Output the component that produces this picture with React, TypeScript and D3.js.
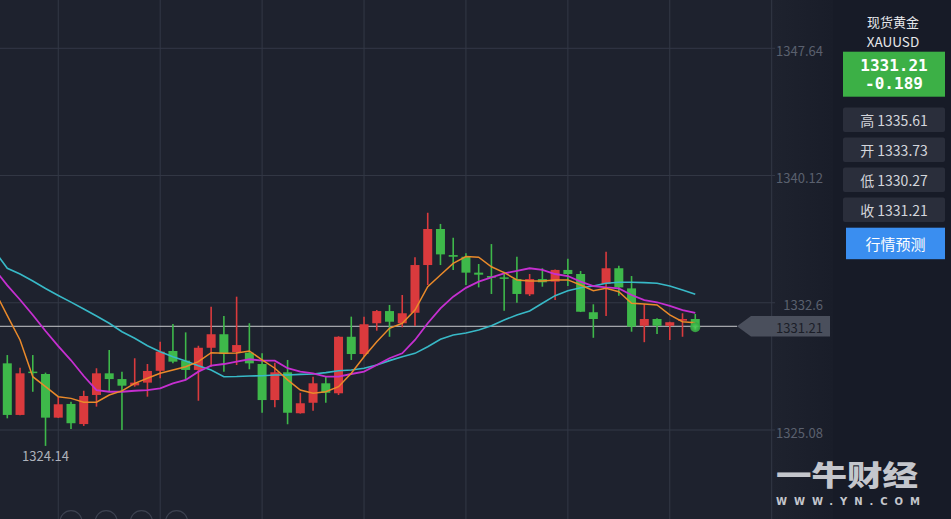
import React from 'react';
import * as d3 from 'd3';

const W = 951;
const H = 519;

// Candles (left to right)
const OPEN = [1329.02, 1325.97, 1328.53, 1328.39, 1325.81, 1326.62, 1325.43, 1327.15, 1328.43, 1328.09, 1327.72, 1327.88, 1328.58, 1329.75, 1329.18, 1328.63, 1329.94, 1330.74, 1329.69, 1329.65, 1328.98, 1326.85, 1328.49, 1326.07, 1326.69, 1327.84, 1327.25, 1330.59, 1329.57, 1331.39, 1332.11, 1331.39, 1332.01, 1334.83, 1336.96, 1335.42, 1335.32, 1334.38, 1334.18, 1334.10, 1334.00, 1333.10, 1334.00, 1333.85, 1334.54, 1334.30, 1332.04, 1333.71, 1334.64, 1333.45, 1331.24, 1331.64, 1331.24, 1331.54, 1331.64];
const CLOSE = [1325.97, 1328.43, 1328.45, 1325.81, 1326.60, 1325.48, 1327.09, 1328.43, 1328.09, 1327.70, 1327.88, 1328.57, 1329.71, 1329.12, 1328.63, 1329.94, 1330.74, 1329.57, 1330.10, 1329.02, 1326.85, 1328.49, 1326.10, 1326.66, 1327.84, 1327.28, 1330.59, 1329.57, 1331.33, 1332.11, 1331.48, 1331.98, 1334.83, 1336.96, 1335.46, 1335.32, 1334.38, 1334.26, 1334.08, 1334.02, 1333.12, 1334.00, 1333.81, 1334.54, 1334.30, 1332.07, 1331.64, 1334.64, 1333.51, 1331.19, 1331.64, 1331.24, 1331.45, 1331.64, 1331.21];
const HIGH = [1329.51, 1328.76, 1329.51, 1328.47, 1327.05, 1326.75, 1327.40, 1328.73, 1329.81, 1328.53, 1329.32, 1328.98, 1330.30, 1331.35, 1330.85, 1330.06, 1332.37, 1331.82, 1332.96, 1331.39, 1329.61, 1329.06, 1329.22, 1327.28, 1328.23, 1328.23, 1330.62, 1331.78, 1331.78, 1332.17, 1332.47, 1333.06, 1335.29, 1337.92, 1337.26, 1336.45, 1335.52, 1334.89, 1336.07, 1334.44, 1335.32, 1334.30, 1334.64, 1334.56, 1335.20, 1334.48, 1332.51, 1335.61, 1334.79, 1334.18, 1332.53, 1331.68, 1331.48, 1331.98, 1331.94];
const LOW = [1325.77, 1325.95, 1327.34, 1324.14, 1325.79, 1325.14, 1325.32, 1326.46, 1327.34, 1325.08, 1327.64, 1327.05, 1328.14, 1329.02, 1328.04, 1326.81, 1328.82, 1328.53, 1328.92, 1328.67, 1326.10, 1326.42, 1325.42, 1326.05, 1326.22, 1326.69, 1327.15, 1329.22, 1329.41, 1330.95, 1330.59, 1331.15, 1331.23, 1333.65, 1334.83, 1334.54, 1333.65, 1333.51, 1333.12, 1332.13, 1332.60, 1333.00, 1333.55, 1332.76, 1333.59, 1332.05, 1330.53, 1331.82, 1333.02, 1330.89, 1330.27, 1330.75, 1330.40, 1330.59, 1330.99];

// Moving averages: first value belongs to the bar just before the visible window
const MA_FAST = [1333.30, 1331.84, 1330.40, 1328.23, 1327.64, 1327.05, 1326.95, 1326.72, 1326.72, 1327.15, 1327.39, 1327.84, 1328.14, 1328.43, 1328.63, 1328.82, 1329.12, 1329.65, 1329.61, 1329.63, 1329.75, 1329.22, 1328.73, 1328.04, 1327.44, 1327.25, 1327.34, 1327.64, 1328.43, 1329.41, 1330.30, 1331.09, 1331.39, 1332.17, 1333.55, 1334.24, 1334.93, 1335.33, 1335.29, 1334.73, 1334.38, 1333.95, 1333.89, 1333.89, 1333.95, 1333.95, 1333.65, 1333.31, 1333.45, 1333.25, 1332.57, 1332.53, 1332.47, 1331.88, 1331.48, 1331.42];
const MA_MID = [1334.58, 1333.63, 1332.78, 1331.88, 1330.93, 1330.04, 1329.20, 1328.27, 1327.44, 1327.34, 1327.34, 1327.40, 1327.44, 1327.54, 1327.84, 1328.04, 1328.53, 1328.88, 1328.98, 1329.12, 1329.26, 1329.18, 1329.18, 1328.73, 1328.53, 1328.43, 1328.23, 1328.23, 1328.39, 1328.53, 1328.92, 1329.32, 1329.61, 1330.40, 1331.39, 1332.27, 1332.96, 1333.48, 1333.85, 1334.10, 1334.34, 1334.48, 1334.64, 1334.54, 1334.30, 1334.18, 1333.85, 1333.59, 1333.51, 1333.45, 1333.06, 1332.76, 1332.63, 1332.41, 1332.17, 1332.00];
const MA_SLOW = [1335.66, 1334.64, 1334.30, 1333.89, 1333.44, 1333.03, 1332.64, 1332.23, 1331.82, 1331.39, 1330.89, 1330.50, 1330.06, 1329.71, 1329.41, 1329.16, 1328.88, 1328.63, 1328.23, 1328.24, 1328.27, 1328.29, 1328.33, 1328.33, 1328.37, 1328.39, 1328.47, 1328.58, 1328.63, 1328.73, 1328.92, 1329.18, 1329.41, 1329.61, 1330.00, 1330.44, 1330.69, 1330.81, 1330.99, 1331.24, 1331.58, 1331.88, 1332.11, 1332.57, 1333.02, 1333.31, 1333.49, 1333.59, 1333.75, 1333.81, 1333.81, 1333.79, 1333.75, 1333.59, 1333.35, 1333.10];

const PRICE_TICKS = [1347.64, 1340.12, 1332.6, 1325.08];
const PRICE_TICK_LABELS = ['1347.64', '1340.12', '1332.6', '1325.08'];
const GRID_BARS = [4, 12, 20, 28, 36, 44, 52, 60];
const LAST_PRICE = 1331.21;
const LAST_PRICE_LABEL = '1331.21';
const MIN_LOW = 1324.14;
const MIN_LOW_LABEL = '1324.14';

const SYMBOL_NAME = '现货黄金';
const SYMBOL_CODE = 'XAUUSD';
const QUOTE_PRICE = '1331.21';
const QUOTE_CHANGE = '-0.189';
const STAT_NAMES = ['高', '开', '低', '收'];
const STAT_VALUES = ['1335.61', '1333.73', '1330.27', '1331.21'];
const BUTTON_LABEL = '行情预测';
const LOGO_TEXT = '一牛财经';
const LOGO_URL = 'WWW.YN.COM';
const NAV_DOTS = [0, 1, 2, 3];

const RED = '#da3a3d';
const GREEN = '#3eb84a';
const BG = '#1e222e';
const FONT = "'Noto Sans CJK SC', 'Noto Sans', sans-serif";

export default function App() {
  const x = d3.scaleLinear().domain([0, 60]).range([7.3, 771.7]);
  const y = d3.scaleLinear().domain([1325.08, 1347.64]).range([430, 48.3]);
  const bodyW = 9;

  const maLine = (vals: number[]) =>
    d3.line<number>().x((_, i) => x(i - 1)).y((v) => y(v))(vals) || '';

  const lastY = y(LAST_PRICE);
  const lowIdx = LOW.indexOf(MIN_LOW);
  const n = CLOSE.length;

  const panelX = 843;
  const panelW = 102;
  const cx = panelX + panelW / 2;
  const statTops = [107.5, 137.5, 167.5, 197.5];

  return (
    <svg width={W} height={H} style={{ position: 'absolute', left: 0, top: 0, display: 'block' }} fontFamily={FONT}>
      <defs>
        <linearGradient id="axisShade" x1="0" x2="1" y1="0" y2="0">
          <stop offset="0" stopColor={BG} />
          <stop offset="1" stopColor="#191d29" />
        </linearGradient>
        <radialGradient id="dotGlow">
          <stop offset="0" stopColor="#4fd25a" />
          <stop offset="1" stopColor="#34a53f" />
        </radialGradient>
      </defs>
      <rect x={0} y={0} width={W} height={H} fill={BG} />
      <rect x={772} y={0} width={61} height={H} fill="url(#axisShade)" />

      {/* grid */}
      {PRICE_TICKS.map((p) => (
        <line key={'h' + p} x1={0} x2={775} y1={y(p)} y2={y(p)} stroke="#333846" strokeWidth={1} />
      ))}
      {GRID_BARS.map((b) => (
        <line key={'v' + b} x1={x(b)} x2={x(b)} y1={0} y2={H} stroke="#333846" strokeWidth={1} />
      ))}

      {/* price labels */}
      {PRICE_TICKS.map((p, i) => (
        <text key={'t' + p} x={823} y={y(p) + 2} textAnchor="end" dominantBaseline="central" fontSize={13} fill="#5a606e">
          {PRICE_TICK_LABELS[i]}
        </text>
      ))}

      {/* last price line */}
      <line x1={0} x2={737} y1={lastY} y2={lastY} stroke="#c9cacd" strokeWidth={1} />

      {/* candles */}
      {CLOSE.map((c, i) => {
        const o = OPEN[i];
        const up = c >= o;
        const col = up ? RED : GREEN;
        const cxp = x(i);
        const top = y(Math.max(o, c));
        const h = Math.max(1.5, Math.abs(y(o) - y(c)));
        return (
          <g key={'c' + i}>
            <line x1={cxp} x2={cxp} y1={y(HIGH[i])} y2={y(LOW[i])} stroke={col} strokeWidth={1.6} />
            <rect x={cxp - bodyW / 2} y={top} width={bodyW} height={h} fill={col} />
          </g>
        );
      })}

      {/* moving averages */}
      <path d={maLine(MA_SLOW)} fill="none" stroke="#38b9c7" strokeWidth={1.6} />
      <path d={maLine(MA_MID)} fill="none" stroke="#c52fd0" strokeWidth={1.8} />
      <path d={maLine(MA_FAST)} fill="none" stroke="#ea8a2a" strokeWidth={1.5} />

      {/* last close dot */}
      <circle cx={x(n - 1)} cy={y(CLOSE[n - 1]) + 1} r={5} fill="url(#dotGlow)" opacity={0.9} />

      {/* lowest low label */}
      <text x={x(lowIdx)} y={y(MIN_LOW) + 10} textAnchor="middle" dominantBaseline="central" fontSize={13} fill="#aeb2bb">
        {MIN_LOW_LABEL}
      </text>

      {/* last price tag */}
      <polygon
        points={`737,${lastY} 751,${lastY - 10.3} 830,${lastY - 10.3} 830,${lastY + 10.2} 751,${lastY + 10.2}`}
        fill="#4a4f5c"
      />
      <text x={823} y={lastY + 1} textAnchor="end" dominantBaseline="central" fontSize={13} fill="#1b1e28">
        {LAST_PRICE_LABEL}
      </text>

      {/* bottom navigation circles */}
      {NAV_DOTS.map((d) => (
        <circle key={'n' + d} cx={71 + d * 35.2} cy={521.7} r={11} fill="none" stroke="#3d4250" strokeWidth={1.2} />
      ))}

      {/* right panel */}
      <rect x={833} y={0} width={W - 833} height={H} fill="#171b27" />
      <text x={893} y={21.5} textAnchor="middle" dominantBaseline="central" fontSize={13} fill="#e6e7ea">
        {SYMBOL_NAME}
      </text>
      <text x={893} y={40.5} textAnchor="middle" dominantBaseline="central" fontSize={13.5} fill="#e6e7ea">
        {SYMBOL_CODE}
      </text>
      <rect x={panelX} y={51.7} width={panelW} height={45} fill="#3cb046" />
      <text x={cx} y={65.5} textAnchor="middle" dominantBaseline="central" fontSize={16} fontWeight="bold" fill="#ffffff" fontFamily="'DejaVu Sans Mono', monospace">
        {QUOTE_PRICE}
      </text>
      <text x={cx} y={83.5} textAnchor="middle" dominantBaseline="central" fontSize={16} fontWeight="bold" fill="#ffffff" fontFamily="'DejaVu Sans Mono', monospace">
        {QUOTE_CHANGE}
      </text>
      {STAT_NAMES.map((nm, i) => (
        <g key={'s' + i}>
          <rect x={panelX} y={statTops[i]} width={panelW} height={24.5} rx={2} fill="#2a2e3b" />
          <text x={cx} y={statTops[i] + 12.5} textAnchor="middle" dominantBaseline="central" fontSize={14} fill="#d4d6dc">
            {nm + ' ' + STAT_VALUES[i]}
          </text>
        </g>
      ))}
      <rect x={panelX + 3} y={227.7} width={panelW - 3} height={31.5} fill="#3a8ef0" />
      <text x={cx + 1.5} y={243.5} textAnchor="middle" dominantBaseline="central" fontSize={15} fill="#ffffff">
        {BUTTON_LABEL}
      </text>

      {/* watermark */}
      <text x={776} y={474} dominantBaseline="central" fontSize={28} fontWeight={900} fill="#c4c6cc" textLength={142} lengthAdjust="spacingAndGlyphs">
        {LOGO_TEXT}
      </text>
      <text x={776} y={501.5} dominantBaseline="central" fontSize={10} fontWeight="bold" fill="#c4c6cc" textLength={144} lengthAdjust="spacing" fontFamily="'DejaVu Sans', sans-serif">
        {LOGO_URL}
      </text>
    </svg>
  );
}
